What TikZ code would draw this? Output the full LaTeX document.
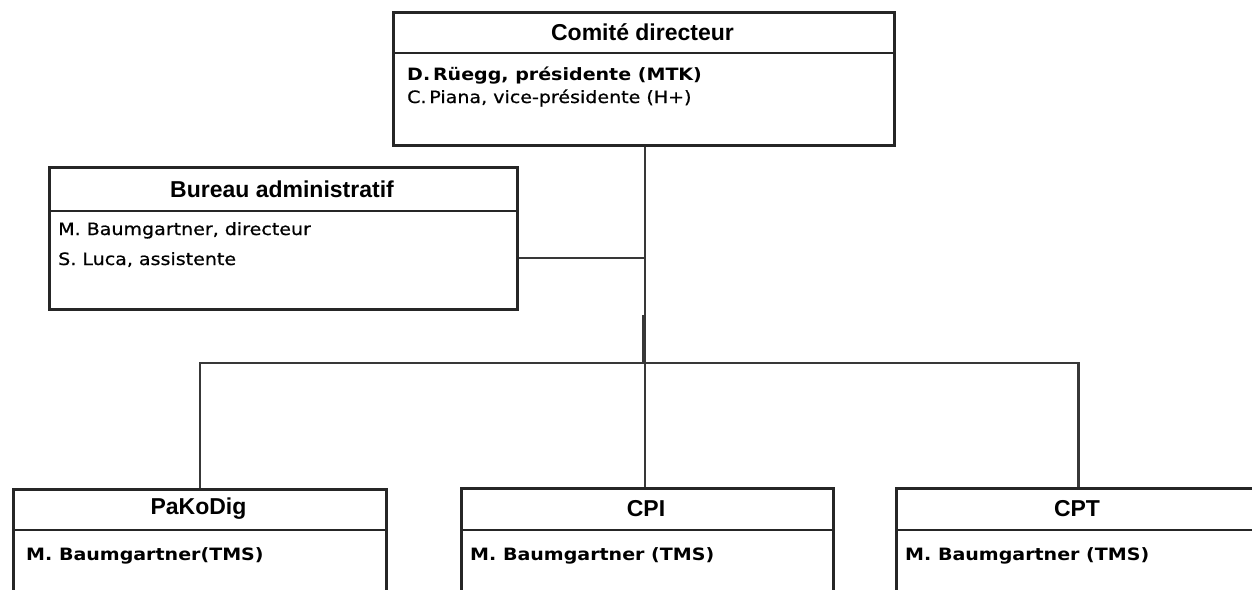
\documentclass[tikz,border=0pt]{standalone}
\usepackage{fontspec}
\setmainfont{Liberation Sans}
\newfontfamily\bodyfont[FakeStretch=1.12]{DejaVu Sans}
\newfontfamily\bodyfontsemi[FakeStretch=1.12,FakeBold=0.8]{DejaVu Sans}
\begin{document}
\begin{tikzpicture}[x=1pt,y=-1pt,
  boxline/.style={draw=black!85, line width=2.6pt, rectangle, inner sep=0pt, anchor=north west},
  divline/.style={draw=black!85, line width=2.6pt},
  conn/.style={draw=black!78, line width=2.5pt},
  ttl/.style={inner sep=0pt, font=\fontsize{23}{23}\selectfont\bfseries},
  bodyb/.style={anchor=base west, inner sep=0pt, font=\bodyfont\fontsize{17}{17}\selectfont\bfseries},
  bodyr/.style={anchor=base west, inner sep=0pt, font=\bodyfontsemi\fontsize{17}{17}\selectfont},
]
\useasboundingbox (0,0) rectangle (1252,589);
\clip (0,0) rectangle (1252,589);

% boxes
\node[boxline, minimum width=501pt, minimum height=133pt] (comite) at (392,11) {};
\node[boxline, minimum width=468pt, minimum height=142pt] (bureau) at (48,166) {};
\node[boxline, minimum width=373pt, minimum height=140pt] (pakodig) at (12,488) {};
\node[boxline, minimum width=372pt, minimum height=140pt] (cpi) at (460,487) {};
\node[boxline, minimum width=364pt, minimum height=140pt] (cpt) at (895,487) {};

% header dividers
\draw[divline] ([yshift=-42pt]comite.north west) -- ([yshift=-42pt]comite.north east);
\draw[divline] ([yshift=-45pt]bureau.north west) -- ([yshift=-45pt]bureau.north east);
\draw[divline] ([yshift=-42pt]pakodig.north west) -- ([yshift=-42pt]pakodig.north east);
\draw[divline] ([yshift=-43pt]cpi.north west) -- ([yshift=-43pt]cpi.north east);
\draw[divline] ([yshift=-43pt]cpt.north west) -- ([yshift=-43pt]cpt.north east);

% titles
\node[ttl] (comiteT) at (642.5,32) {Comité directeur};
\node[ttl] (bureauT) at (282,189) {Bureau administratif};
\node[ttl] (pakodigT) at (198.5,509) {PaKoDig};
\node[ttl] (cpiT) at (646,509) {CPI};
\node[ttl] (cptT) at (1077,509) {CPT};

% body texts
\node[bodyb] (comiteA) at (407,80) {D.\,Rüegg, présidente (MTK)};
\node[bodyr] (comiteB) at (407,103) {C.\,Piana, vice-présidente (H+)};
\node[bodyr] (bureauA) at (58,235) {M. Baumgartner, directeur};
\node[bodyr] (bureauB) at (58,265) {S. Luca, assistente};
\node[bodyb] (pakodigA) at (26,560) {M. Baumgartner(TMS)};
\node[bodyb] (cpiA) at (470,560) {M. Baumgartner (TMS)};
\node[bodyb] (cptA) at (905,560) {M. Baumgartner (TMS)};

% connectors
\coordinate (bus) at (645,363);
\coordinate (baj) at (645,258);
\coordinate (stub) at (643,315);
\draw[conn] (bus |- comite.south) -- (bus |- cpi.north);
\draw[conn] (bureau.east |- baj) -- (baj);
\draw[conn] (pakodig.north) |- (bus) -| (cpt.north);
\draw[conn] (stub) -- (stub |- bus);
\end{tikzpicture}
\end{document}
